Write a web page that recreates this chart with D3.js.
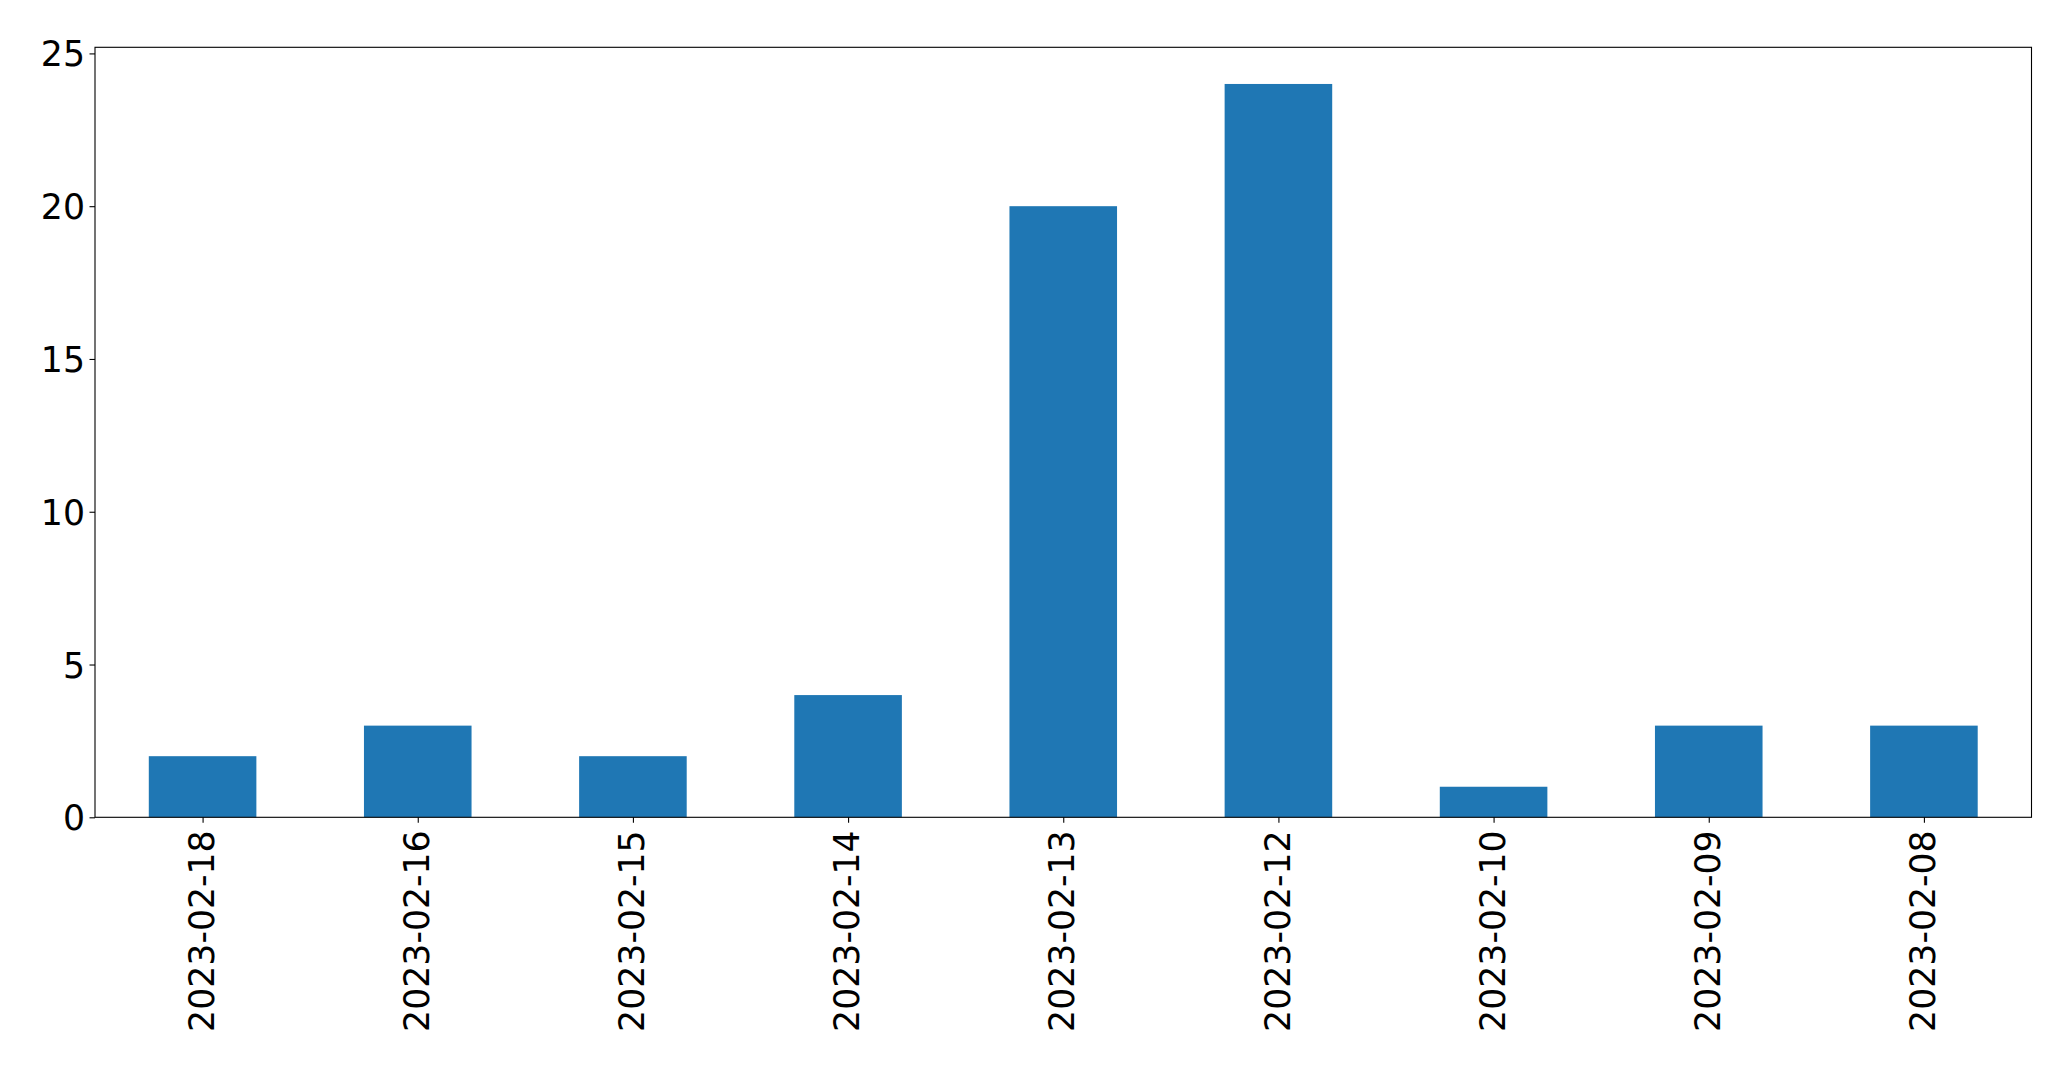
<!DOCTYPE html>
<html><head><meta charset="utf-8">
<script src="https://cdn.jsdelivr.net/npm/d3@7"></script>
<style>html,body{margin:0;padding:0;background:#fff;}svg{display:block;}</style>
</head><body>
<svg id="chart" width="2071" height="1069"></svg>
<script>
const categories = ["2023-02-18","2023-02-16","2023-02-15","2023-02-14","2023-02-13","2023-02-12","2023-02-10","2023-02-09","2023-02-08"];
const values = [2, 3, 2, 4, 20, 24, 1, 3, 3];
const yTicks = [0, 5, 10, 15, 20, 25];

const svg = d3.select("#chart");
const mLeft = 95, mRight = 2031.5, mTop = 47.3, mBottom = 817.3;
const font = "'DejaVu Sans', sans-serif";
const fs = 34.7;

const x = d3.scaleLinear().domain([-0.5, categories.length - 0.5]).range([mLeft, mRight]);
const y = d3.scaleLinear().domain([0, d3.max(values) * 1.05]).range([mBottom, mTop]);

svg.selectAll("rect.bar").data(values).join("rect")
  .attr("class", "bar")
  .attr("x", (d, i) => x(i - 0.25))
  .attr("width", (d, i) => x(i + 0.25) - x(i - 0.25))
  .attr("y", d => y(d))
  .attr("height", d => y(0) - y(d))
  .attr("fill", "#1f77b4");

const yAxis = d3.axisLeft(y).tickValues(yTicks).tickSize(5.5).tickPadding(4.5).tickFormat(d3.format("d"));
const gy = svg.append("g").attr("transform", `translate(${mLeft},0)`).call(yAxis);
gy.select(".domain").remove();
gy.selectAll("line").attr("stroke", "#000").attr("stroke-width", 1.1);
gy.selectAll("text").attr("font-family", font).attr("font-size", fs).attr("fill", "#000").attr("dy", "0.36em");

const xAxis = d3.axisBottom(x).tickValues(d3.range(categories.length)).tickSize(5.5).tickFormat(i => categories[i]);
const gx = svg.append("g").attr("transform", `translate(0,${mBottom})`).call(xAxis);
gx.select(".domain").remove();
gx.selectAll("line").attr("stroke", "#000").attr("stroke-width", 1.1);
gx.selectAll("text")
  .attr("font-family", font).attr("font-size", fs).attr("fill", "#000")
  .attr("text-anchor", "end")
  .attr("dy", "0.35em")
  .attr("transform", "translate(-1.5,13) rotate(-90)")
  .attr("x", 0).attr("y", 0);

svg.append("rect").attr("x", mLeft).attr("y", mTop).attr("width", mRight - mLeft).attr("height", mBottom - mTop)
  .attr("fill", "none").attr("stroke", "#000").attr("stroke-width", 1.1);
</script>
</body></html>
